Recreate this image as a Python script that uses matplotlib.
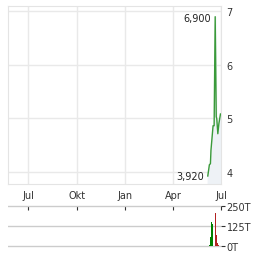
import matplotlib

matplotlib.use("Agg")
import numpy as np
import pandas as pd
from matplotlib import pyplot as plt

# price series (close)
price_dates = pd.to_datetime([
    "2025-06-06", "2025-06-09", "2025-06-11", "2025-06-12", "2025-06-16",
    "2025-06-18", "2025-06-20", "2025-06-22", "2025-06-23", "2025-06-25",
    "2025-06-27", "2025-06-30",
])
price_values = [3.92, 4.13, 4.15, 4.40, 4.86, 4.86, 6.90, 5.03, 4.99, 4.71, 4.90, 5.08]

# volume in thousands (T)
vol_dates = pd.to_datetime([
    "2025-06-09", "2025-06-11", "2025-06-13", "2025-06-15",
    "2025-06-20", "2025-06-22", "2025-06-24", "2025-06-26",
])
vol_values = [6, 56, 150, 137, 206, 69, 19, 5]
vol_up = [True, True, True, True, False, False, False, False]

tick_dates = pd.to_datetime(["2024-07-01", "2024-10-01", "2025-01-01", "2025-04-01", "2025-07-01"])
tick_labels = ["Jul", "Okt", "Jan", "Apr", "Jul"]
price_ticks = [4, 5, 6, 7]
vol_ticks = [0, 125, 250]
vol_tick_labels = ["0T", "125T", "250T"]

W, H = 264, 255
fig = plt.figure(figsize=(W / 100, H / 100), dpi=100)
fig.patch.set_facecolor("white")

x0, x1 = pd.Timestamp("2024-05-24"), pd.Timestamp("2025-07-01")

ax = fig.add_axes([8 / W, 1 - 185 / H, 213 / W, 178 / H])
ax.set_xlim(x0, x1)
ax.set_ylim(3.77, 7.1)
ax.fill_between(price_dates, price_values, 3.77, color="#eef2f6", zorder=1)
ax.plot(price_dates, price_values, color="#3a9a3a", lw=1.0, zorder=3)
ax.set_xticks(tick_dates)
ax.set_xticklabels(tick_labels)
ax.set_yticks(price_ticks)
ax.yaxis.tick_right()
ax.grid(True, color="#e9e9e9", lw=1.0, zorder=0)
ax.set_axisbelow(True)
ax.tick_params(axis="both", length=0, labelsize=7, colors="#333333")
ax.tick_params(axis="x", pad=4)
ax.tick_params(axis="y", pad=4)
for s in ax.spines.values():
    s.set_color("#e4e4e4")

i_max = int(np.argmax(price_values))
i_min = int(np.argmin(price_values))
ax.annotate("6,900", (price_dates[i_max], price_values[i_max]), xytext=(-3, -1),
            textcoords="offset points", ha="right", va="center", fontsize=7, color="#222222")
ax.annotate("3,920", (price_dates[i_min], price_values[i_min]), xytext=(-3, 0),
            textcoords="offset points", ha="right", va="center", fontsize=7, color="#222222")

vax = fig.add_axes([8 / W, 1 - 249 / H, 213 / W, 44 / H])
vax.set_xlim(x0, x1)
vax.set_ylim(-12, 262)
colors = ["#008000" if u else "#b22222" for u in vol_up]
vax.bar(vol_dates, vol_values, width=1.9, color=colors, zorder=3)
vax.set_yticks(vol_ticks)
vax.set_yticklabels(vol_tick_labels)
vax.yaxis.tick_right()
vax.grid(True, axis="y", color="#cccccc", lw=1.0, zorder=0)
vax.set_xticks(tick_dates)
# x ticks hang from the 250T line
vax.spines["top"].set_position(("data", 250))
vax.tick_params(axis="x", top=True, bottom=False, labeltop=False, labelbottom=False,
                direction="in", length=3, color="#333333")
vax.tick_params(axis="y", length=3, labelsize=7, colors="#333333", pad=1)
for s in vax.spines.values():
    s.set_visible(False)

fig.savefig("out.png", dpi=100)
